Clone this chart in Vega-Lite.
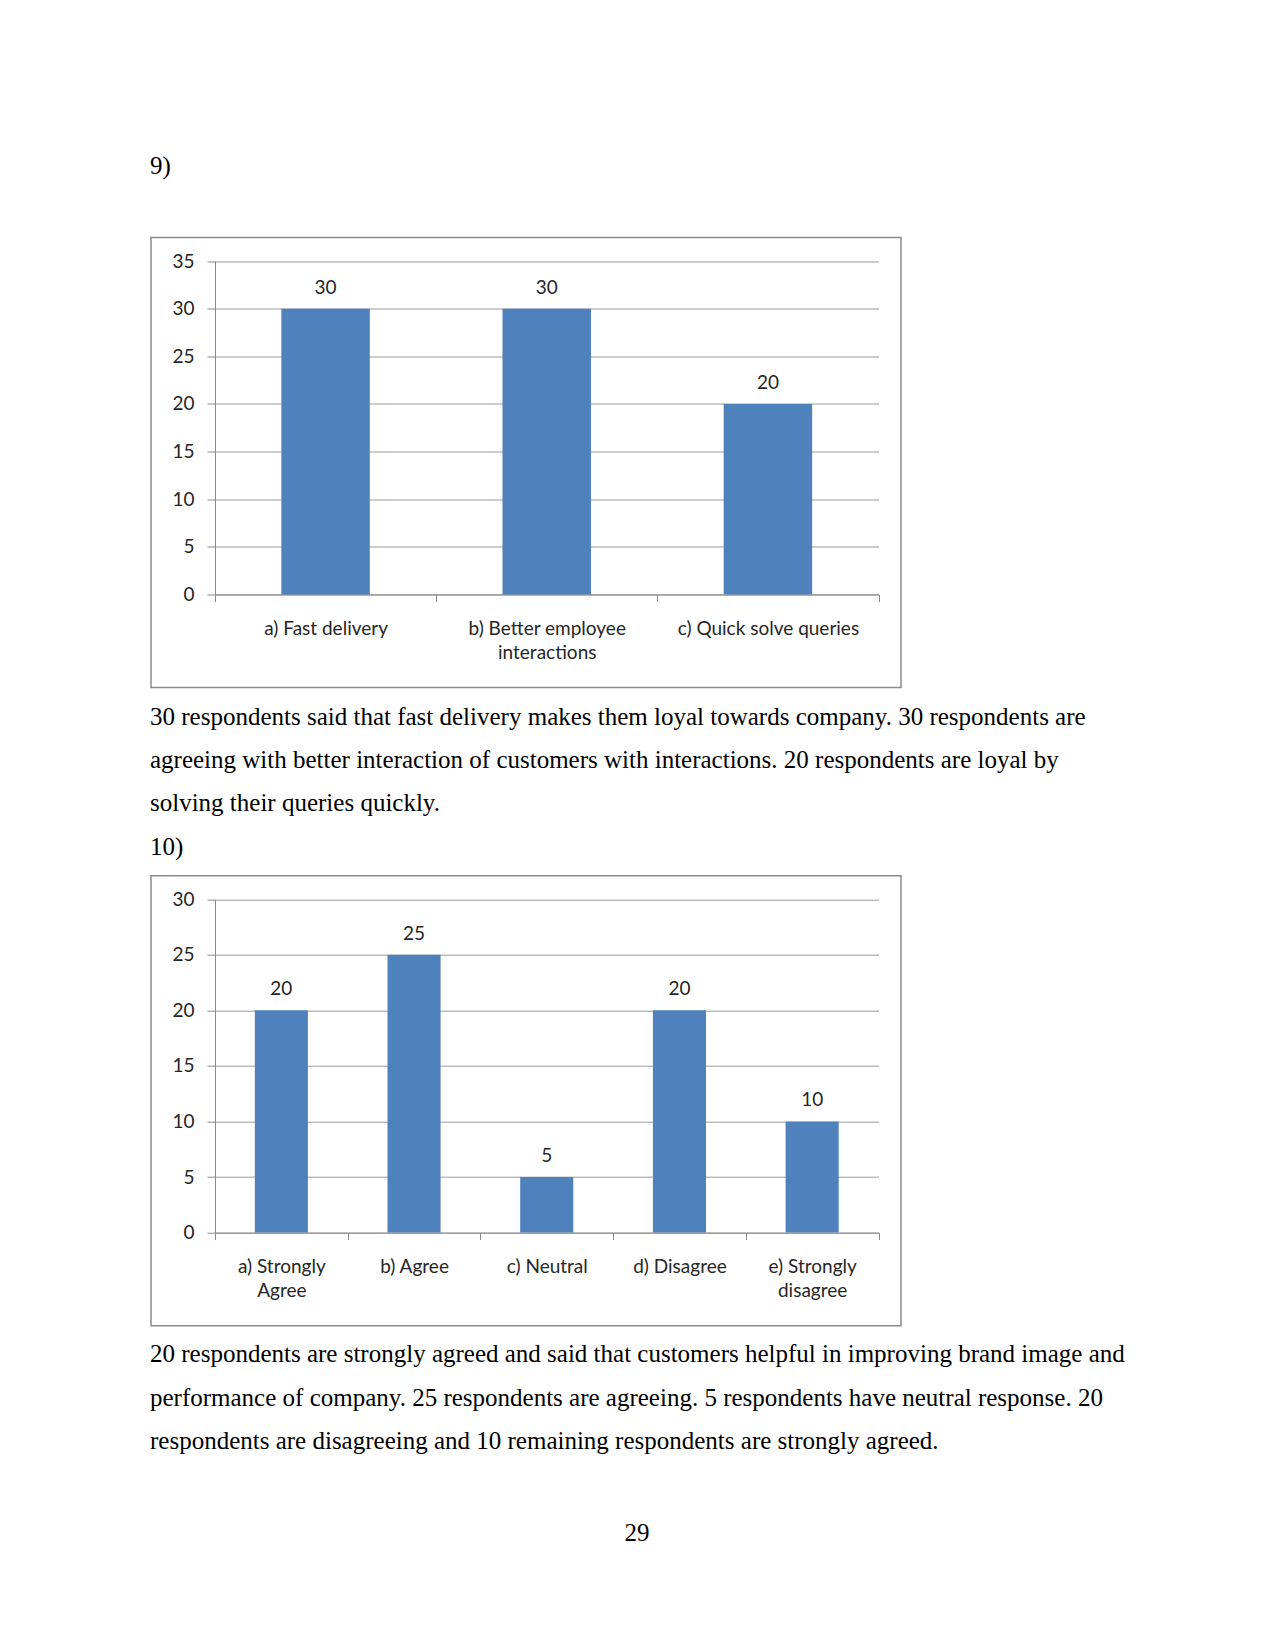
{
  "$schema": "https://vega.github.io/schema/vega-lite/v6.json",
  "background": "white",
  "padding": {"left": 149, "top": 153.5, "right": 20, "bottom": 20},
  "bounds": "flush",
  "spacing": 188.2,
  "config": {
    "view": {"stroke": "#8a8a8a", "strokeWidth": 1.5},
    "axis": {
      "labelFont": "Lato",
      "labelFontSize": 19,
      "labelColor": "#262626",
      "domainColor": "#8a8a8a",
      "tickColor": "#8a8a8a",
      "gridColor": "#9a9a9a",
      "labelLimit": 400,
      "title": null
    },
    "title": {
      "font": "Liberation Serif",
      "fontSize": 25,
      "fontWeight": "normal",
      "color": "#000000",
      "anchor": "start",
      "frame": "group"
    }
  },
  "datasets": {
    "q9": [
      {"option": "a) Fast delivery", "respondents": 30},
      {"option": "b) Better employee\ninteractions", "respondents": 30},
      {"option": "c) Quick solve queries", "respondents": 20}
    ],
    "q10": [
      {"option": "a) Strongly\nAgree", "respondents": 20},
      {"option": "b) Agree", "respondents": 25},
      {"option": "c) Neutral", "respondents": 5},
      {"option": "d) Disagree", "respondents": 20},
      {"option": "e) Strongly\ndisagree", "respondents": 10}
    ],
    "page": [{"number": "29"}]
  },
  "vconcat": [
    {
      "width": 750,
      "height": 450,
      "data": {"name": "q9"},
      "title": {"text": "9)", "offset": 58.25, "dx": -1},
      "encoding": {
        "x": {
          "field": "option",
          "type": "nominal",
          "sort": null,
          "scale": {"range": [64, 727.5], "paddingInner": 0, "paddingOuter": 0},
          "axis": {
            "orient": "bottom",
            "offset": -93.1,
            "labelAngle": 0,
            "tickBand": "extent",
            "tickSize": 7,
            "labelPadding": 18,
            "labelLineHeight": 24.4,
            "labelExpr": "split(datum.label, '\\n')",
            "grid": false
          }
        },
        "y": {
          "field": "respondents",
          "type": "quantitative",
          "scale": {"domain": [0, 35], "range": [356.9, 23.5], "nice": false},
          "axis": {
            "offset": -64,
            "values": [0, 5, 10, 15, 20, 25, 30, 35],
            "tickSize": 8,
            "labelPadding": 13,
            "grid": true
          }
        }
      },
      "layer": [
        {"mark": {"type": "bar", "color": "#4F81BD", "width": {"band": 0.4}}},
        {
          "mark": {"type": "text", "dy": -15, "baseline": "alphabetic", "font": "Lato", "fontSize": 19, "color": "#262626"},
          "encoding": {"text": {"field": "respondents", "type": "quantitative"}}
        }
      ]
    },
    {
      "width": 750,
      "height": 450,
      "data": {"name": "q10"},
      "title": {
        "text": [
          "30 respondents said that fast delivery makes them loyal towards company. 30 respondents are",
          "agreeing with better interaction of customers with interactions. 20 respondents are loyal by",
          "solving their queries quickly.",
          "10)"
        ],
        "lineHeight": 43.2,
        "offset": 16,
        "dx": -1
      },
      "encoding": {
        "x": {
          "field": "option",
          "type": "nominal",
          "sort": null,
          "scale": {"range": [64, 727.5], "paddingInner": 0, "paddingOuter": 0},
          "axis": {
            "orient": "bottom",
            "offset": -93.1,
            "labelAngle": 0,
            "tickBand": "extent",
            "tickSize": 7,
            "labelPadding": 18,
            "labelLineHeight": 24.4,
            "labelExpr": "split(datum.label, '\\n')",
            "grid": false
          }
        },
        "y": {
          "field": "respondents",
          "type": "quantitative",
          "scale": {"domain": [0, 30], "range": [356.9, 23.5], "nice": false},
          "axis": {
            "offset": -64,
            "values": [0, 5, 10, 15, 20, 25, 30],
            "tickSize": 8,
            "labelPadding": 13,
            "grid": true
          }
        }
      },
      "layer": [
        {"mark": {"type": "bar", "color": "#4F81BD", "width": {"band": 0.4}}},
        {
          "mark": {"type": "text", "dy": -15, "baseline": "alphabetic", "font": "Lato", "fontSize": 19, "color": "#262626"},
          "encoding": {"text": {"field": "respondents", "type": "quantitative"}}
        }
      ]
    },
    {
      "width": 972,
      "height": 53.6,
      "view": {"stroke": null},
      "data": {"name": "page"},
      "title": {
        "text": [
          "20 respondents are strongly agreed and said that customers helpful in improving brand image and",
          "performance of company. 25 respondents are agreeing. 5 respondents have neutral response. 20",
          "respondents are disagreeing and 10 remaining respondents are strongly agreed."
        ],
        "lineHeight": 43.6,
        "offset": 59.45,
        "dx": -1
      },
      "mark": {"type": "text", "baseline": "alphabetic", "font": "Liberation Serif", "fontSize": 25, "color": "#000000"},
      "encoding": {"text": {"field": "number", "type": "nominal"}}
    }
  ]
}
